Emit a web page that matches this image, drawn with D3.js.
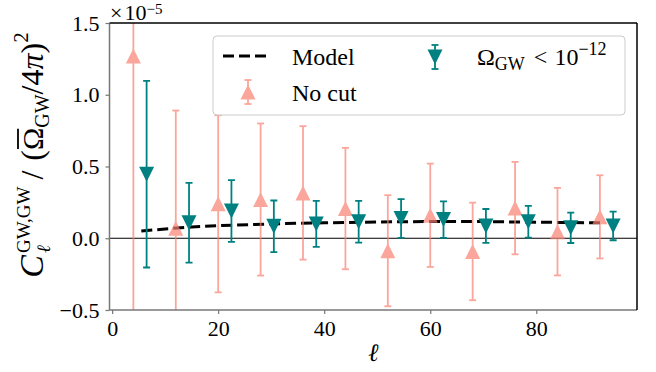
<!DOCTYPE html>
<html>
<head>
<meta charset="utf-8">
<script src="https://cdn.jsdelivr.net/npm/d3@7"></script>
<style>
  body { margin: 0; background: #fff; }
  text { font-family: "Liberation Serif", "DejaVu Serif", serif; fill: #000; }
</style>
</head>
<body>
<div id="chart"></div>
<script>
// values in units of 1e-5
const noCutEll = [4, 12, 20, 28, 36, 44, 52, 60, 68, 76, 84, 92];
const noCutVal = [1.27, 0.07, 0.24, 0.27, 0.316, 0.207, -0.087, 0.16, -0.092, 0.21, 0.046, 0.149];
const noCutErr = [2.0, 0.82, 0.617, 0.53, 0.465, 0.423, 0.387, 0.36, 0.34, 0.322, 0.305, 0.29];

const cutEll = [6.5, 14.5, 22.5, 30.5, 38.5, 46.5, 54.5, 62.5, 70.5, 78.5, 86.5, 94.5];
const cutVal = [0.446, 0.108, 0.19, 0.083, 0.10, 0.115, 0.137, 0.13, 0.086, 0.115, 0.073, 0.086];
const cutErr = [0.65, 0.278, 0.215, 0.18, 0.16, 0.145, 0.135, 0.127, 0.118, 0.11, 0.106, 0.1];

const modelEll = [5.5, 10, 15, 20, 30, 40, 50, 60, 70, 80, 93];
const modelVal = [0.05, 0.065, 0.078, 0.088, 0.1, 0.108, 0.113, 0.117, 0.116, 0.112, 0.107];

const xTicks = [0, 20, 40, 60, 80];
const yTicks = [-0.5, 0.0, 0.5, 1.0, 1.5];

const W = 656, H = 372;
const pL = 109.5, pR = 637, pT = 23, pB = 310;
const pink = '#fa8072', teal = '#008080';

const svg = d3.select('#chart').append('svg')
  .attr('width', W).attr('height', H);

const x = d3.scaleLinear().domain([-0.5, 99]).range([pL, pR]);
const y = d3.scaleLinear().domain([-0.5, 1.5]).range([pB, pT]);

svg.append('clipPath').attr('id', 'plot')
  .append('rect').attr('x', pL).attr('y', pT)
  .attr('width', pR - pL).attr('height', pB - pT);

const plot = svg.append('g').attr('clip-path', 'url(#plot)');

// zero line
plot.append('line')
  .attr('x1', pL).attr('x2', pR)
  .attr('y1', y(0)).attr('y2', y(0))
  .attr('stroke', '#000').attr('stroke-width', 1);

// model
const model = modelEll.map((l, i) => [l, modelVal[i]]);
plot.append('path')
  .datum(model)
  .attr('d', d3.line().x(d => x(d[0])).y(d => y(d[1])))
  .attr('fill', 'none')
  .attr('stroke', '#000')
  .attr('stroke-width', 3)
  .attr('stroke-dasharray', '11,5');

// triangle with width = height = 15, centered on its bounding box
const triPath = 'M0,-7.5L7.5,7.5L-7.5,7.5Z';

function series(ell, val, err, color, opacity, down, lw) {
  const g = plot.append('g').attr('opacity', opacity);
  const data = ell.map((l, i) => ({ l, v: val[i], e: err[i] }));
  data.forEach(d => {
    const cx = x(d.l);
    g.append('line')
      .attr('x1', cx).attr('x2', cx)
      .attr('y1', y(d.v - d.e)).attr('y2', y(d.v + d.e))
      .attr('stroke', color).attr('stroke-width', lw);
    [d.v - d.e, d.v + d.e].forEach(c => {
      g.append('line')
        .attr('x1', cx - 3.5).attr('x2', cx + 3.5)
        .attr('y1', y(c)).attr('y2', y(c))
        .attr('stroke', color).attr('stroke-width', lw);
    });
  });
  g.selectAll('path.m')
    .data(data)
    .enter().append('path')
    .attr('class', 'm')
    .attr('d', triPath)
    .attr('transform', d => `translate(${x(d.l)},${y(d.v)})${down ? ' rotate(180)' : ''}`)
    .attr('fill', color);
}

series(noCutEll, noCutVal, noCutErr, pink, 0.7, false, 1.8);
series(cutEll, cutVal, cutErr, teal, 1, true, 1.8);

// spines
svg.append('line').attr('x1', pL).attr('x2', pL).attr('y1', pT).attr('y2', pB)
  .attr('stroke', '#777').attr('stroke-width', 1.5);
svg.append('line').attr('x1', pL).attr('x2', pR).attr('y1', pB).attr('y2', pB)
  .attr('stroke', '#777').attr('stroke-width', 1.5);
svg.append('line').attr('x1', pL).attr('x2', pR).attr('y1', pT).attr('y2', pT)
  .attr('stroke', '#000').attr('stroke-width', 1.5);
svg.append('line').attr('x1', pR).attr('x2', pR).attr('y1', pT).attr('y2', pB)
  .attr('stroke', '#000').attr('stroke-width', 1.5);

// axes
const xAxis = svg.append('g')
  .attr('transform', `translate(0,${pB})`)
  .call(d3.axisBottom(x).tickValues(xTicks).tickSize(4).tickPadding(6).tickFormat(d3.format('d')));
const yAxis = svg.append('g')
  .attr('transform', `translate(${pL},0)`)
  .call(d3.axisLeft(y).tickValues(yTicks).tickSize(4).tickPadding(6)
    .tickFormat(d => d3.format('.1f')(d).replace('-', '\u2212')));
[xAxis, yAxis].forEach(a => {
  a.select('.domain').remove();
  a.selectAll('.tick line').attr('stroke', '#777').attr('stroke-width', 1.2);
  a.selectAll('.tick text')
    .attr('font-size', 22)
    .attr('font-family', '"Liberation Serif", serif');
});

// offset text
const off = svg.append('text').attr('x', 110).attr('y', 20).attr('font-size', 22);
off.append('tspan').text('\u00d7');
off.append('tspan').attr('dx', 2).text('10');
off.append('tspan').attr('dy', -6).attr('font-size', 15).text('\u22125');

// x label
svg.append('text')
  .attr('x', (pL + pR) / 2).attr('y', 361)
  .attr('text-anchor', 'middle')
  .attr('font-size', 25)
  .attr('font-family', '"DejaVu Serif", serif')
  .style('font-style', 'italic')
  .text('\u2113');

// y label, built piece by piece along the rotated baseline
const yl = svg.append('g');
let cur = 0;
function piece(t, size, base, opts = {}) {
  const el = yl.append('text')
    .attr('x', cur).attr('y', base)
    .attr('font-size', size)
    .attr('font-family', opts.fam || null)
    .style('font-style', opts.it ? 'italic' : 'normal')
    .text(t);
  const w = el.node().getComputedTextLength();
  if (opts.advance !== false) cur += w;
  return w;
}
piece('C', 34, 0, { it: true });
cur += 2;
const w1 = piece('GW,GW', 19, -13, { advance: false });
const w2 = piece('\u2113', 19, 7, { it: true, fam: '"DejaVu Serif", serif', advance: false });
cur += Math.max(w1, w2) + 7;
piece('/', 32, 0);
cur += 10;
piece('(', 32, 0);
const ox = cur;
const ow = piece('\u03a9', 30, 0);
yl.append('line').attr('x1', ox + 1).attr('x2', ox + ow - 1)
  .attr('y1', -25).attr('y2', -25).attr('stroke', '#000').attr('stroke-width', 1.8);
piece('GW', 20, 6);
piece('/', 32, 0);
piece('4', 32, 0);
piece('\u03c0', 32, 0, { it: true });
piece(')', 32, 0);
piece('2', 21, -15);
yl.attr('transform', `translate(43,${155 + cur / 2}) rotate(-90)`);

// legend
const lg = svg.append('g');
lg.append('rect')
  .attr('x', 213).attr('y', 36).attr('width', 412).attr('height', 79).attr('rx', 4)
  .attr('fill', '#fff').attr('fill-opacity', 0.8)
  .attr('stroke', '#ccc').attr('stroke-width', 1);

lg.append('line')
  .attr('x1', 223).attr('x2', 270).attr('y1', 56).attr('y2', 56)
  .attr('stroke', '#000').attr('stroke-width', 3).attr('stroke-dasharray', '11,5');
lg.append('text').attr('x', 292).attr('y', 65).attr('font-size', 24).text('Model');

function legendMark(cx, cy, color, opacity, down) {
  const g = lg.append('g').attr('opacity', opacity);
  g.append('line').attr('x1', cx).attr('x2', cx).attr('y1', cy - 12).attr('y2', cy + 12)
    .attr('stroke', color).attr('stroke-width', 1.8);
  [cy - 12, cy + 12].forEach(c => g.append('line')
    .attr('x1', cx - 3.5).attr('x2', cx + 3.5).attr('y1', c).attr('y2', c)
    .attr('stroke', color).attr('stroke-width', 1.8));
  g.append('path').attr('d', triPath)
    .attr('transform', `translate(${cx},${cy})${down ? ' rotate(180)' : ''}`)
    .attr('fill', color);
}
legendMark(248, 92, pink, 0.7, false);
lg.append('text').attr('x', 292).attr('y', 101).attr('font-size', 24).text('No cut');

legendMark(435, 57, teal, 1, true);
const om = lg.append('text').attr('x', 477).attr('y', 65).attr('font-size', 24);
om.append('tspan').text('\u03a9');
om.append('tspan').attr('dy', 5).attr('font-size', 18).text('GW');
om.append('tspan').attr('dy', -5).attr('dx', 9).text('<');
om.append('tspan').attr('dx', 7).text('10');
om.append('tspan').attr('dy', -10).attr('font-size', 18).text('\u221212');
</script>
</body>
</html>
